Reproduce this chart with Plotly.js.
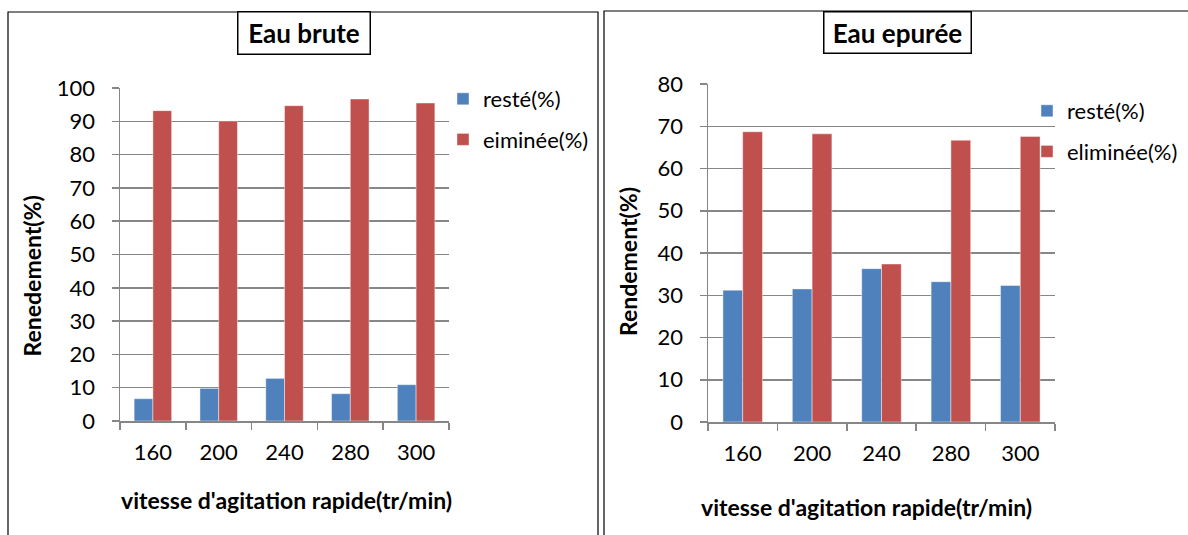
<!DOCTYPE html>
<html>
<head>
<meta charset="utf-8">
<script src="https://cdn.plot.ly/plotly-3.0.1.min.js"></script>
<style>
  html, body { margin: 0; padding: 0; background: #ffffff; }
  #chart { width: 1188px; height: 535px; }
</style>
</head>
<body>
<div id="chart"></div>
<script>
// Rapid stirring speed (tr/min)
const speeds = ['160', '200', '240', '280', '300'];

// Raw water
const brute_reste = [6.7, 9.8, 12.8, 8.2, 10.9];
const brute_eliminee = [93.2, 90.1, 94.7, 96.7, 95.5];

// Treated water
const epuree_reste = [31.2, 31.5, 36.3, 33.2, 32.3];
const epuree_eliminee = [68.7, 68.2, 37.4, 66.7, 67.6];

const W = 1188, H = 535;
const px = v => v / W;            // horizontal pixel -> paper
const py = v => 1 - v / H;        // vertical pixel -> paper

const BLUE = '#4F81BD', RED = '#C0504D', GRID = '#868686';
const FONT = 'Lato, "Open Sans", sans-serif';

const barLine = { color: 'rgba(255,255,255,0.55)', width: 0.8 };

const traces = [
  { type: 'bar', x: speeds, y: brute_reste, name: 'resté(%)', xaxis: 'x', yaxis: 'y',
    marker: { color: BLUE, line: barLine }, legend: 'legend', legendgroup: 'a' },
  { type: 'bar', x: speeds, y: brute_eliminee, name: 'eiminée(%)', xaxis: 'x', yaxis: 'y',
    marker: { color: RED, line: barLine }, legend: 'legend', legendgroup: 'b' },
  { type: 'bar', x: speeds, y: epuree_reste, name: 'resté(%)', xaxis: 'x2', yaxis: 'y2',
    marker: { color: BLUE, line: barLine }, legend: 'legend2', legendgroup: 'c' },
  { type: 'bar', x: speeds, y: epuree_eliminee, name: 'eliminée(%)', xaxis: 'x2', yaxis: 'y2',
    marker: { color: RED, line: barLine }, legend: 'legend2', legendgroup: 'd' }
];

const xCommon = {
  type: 'category', showline: true, linecolor: GRID, linewidth: 1.5,
  ticks: 'outside', tickson: 'boundaries', ticklen: 7, tickwidth: 1.5, tickcolor: GRID,
  showgrid: false, zeroline: false, fixedrange: true,
  tickfont: { family: FONT, size: 22, color: '#000' }, ticklabelstandoff: 11
};
const yCommon = {
  showline: true, linecolor: GRID, linewidth: 1.5,
  ticks: 'outside', ticklen: 7, tickwidth: 1.5, tickcolor: GRID,
  showgrid: true, gridcolor: GRID, gridwidth: 1.5, zeroline: false, fixedrange: true,
  tickfont: { family: FONT, size: 22, color: '#000' }, ticklabelstandoff: 12, dtick: 10
};

const legendCommon = {
  orientation: 'v', xanchor: 'left', yanchor: 'top', traceorder: 'grouped',
  tracegroupgap: 9, bgcolor: 'rgba(0,0,0,0)', itemwidth: 30,
  font: { family: FONT, size: 22, color: '#000' }
};

const layout = {
  width: W, height: H,
  margin: { l: 0, r: 0, t: 0, b: 0 },
  paper_bgcolor: '#ffffff', plot_bgcolor: '#ffffff',
  barmode: 'group', bargap: 0.43, bargroupgap: 0,
  showlegend: true,
  xaxis: Object.assign({}, xCommon, { domain: [px(120), px(449)], anchor: 'y' }),
  yaxis: Object.assign({}, yCommon, { domain: [py(421), py(88)], anchor: 'x', range: [0, 100] }),
  xaxis2: Object.assign({}, xCommon, { domain: [px(708), px(1055)], anchor: 'y2' }),
  yaxis2: Object.assign({}, yCommon, { domain: [py(422), py(84)], anchor: 'x2', range: [0, 80] }),
  legend: Object.assign({}, legendCommon, { x: px(443), y: py(78) }),
  legend2: Object.assign({}, legendCommon, { x: px(1027), y: py(90) }),
  shapes: [
    // outer frames of the two panels
    { type: 'rect', xref: 'paper', yref: 'paper', x0: px(8), x1: px(598), y0: py(540), y1: py(12),
      line: { color: '#000', width: 1.2 } },
    { type: 'rect', xref: 'paper', yref: 'paper', x0: px(604), x1: px(1200), y0: py(540), y1: py(11),
      line: { color: '#000', width: 1.2 } }
  ],
  annotations: [
    // panel titles in boxes
    { text: '<b>Eau brute</b>', xref: 'paper', yref: 'paper', x: px(303.5), y: py(33.5),
      xanchor: 'center', yanchor: 'middle', showarrow: false, width: 129, height: 39,
      bordercolor: '#000', borderwidth: 1.5, borderpad: 1, bgcolor: '#fff',
      font: { family: FONT, size: 26, color: '#000' } },
    { text: '<b>Eau epurée</b>', xref: 'paper', yref: 'paper', x: px(898), y: py(33),
      xanchor: 'center', yanchor: 'middle', showarrow: false, width: 144, height: 38,
      bordercolor: '#000', borderwidth: 1.5, borderpad: 1, bgcolor: '#fff',
      font: { family: FONT, size: 26, color: '#000' } },
    // axis titles
    { text: '<b>Renedement(%)</b>', xref: 'paper', yref: 'paper', x: px(31.5), y: py(276),
      xanchor: 'center', yanchor: 'middle', showarrow: false, textangle: -90,
      font: { family: FONT, size: 23, color: '#000' } },
    { text: '<b>Rendement(%)</b>', xref: 'paper', yref: 'paper', x: px(628), y: py(262),
      xanchor: 'center', yanchor: 'middle', showarrow: false, textangle: -90,
      font: { family: FONT, size: 23, color: '#000' } },
    { text: "<b>vitesse d'agitation rapide(tr/min)</b>", xref: 'paper', yref: 'paper', x: px(286), y: py(500),
      xanchor: 'center', yanchor: 'middle', showarrow: false,
      font: { family: FONT, size: 23, color: '#000' } },
    { text: "<b>vitesse d'agitation rapide(tr/min)</b>", xref: 'paper', yref: 'paper', x: px(866), y: py(507),
      xanchor: 'center', yanchor: 'middle', showarrow: false,
      font: { family: FONT, size: 23, color: '#000' } }
  ]
};

Plotly.newPlot('chart', traces, layout, { displayModeBar: false, staticPlot: true });
</script>
</body>
</html>
